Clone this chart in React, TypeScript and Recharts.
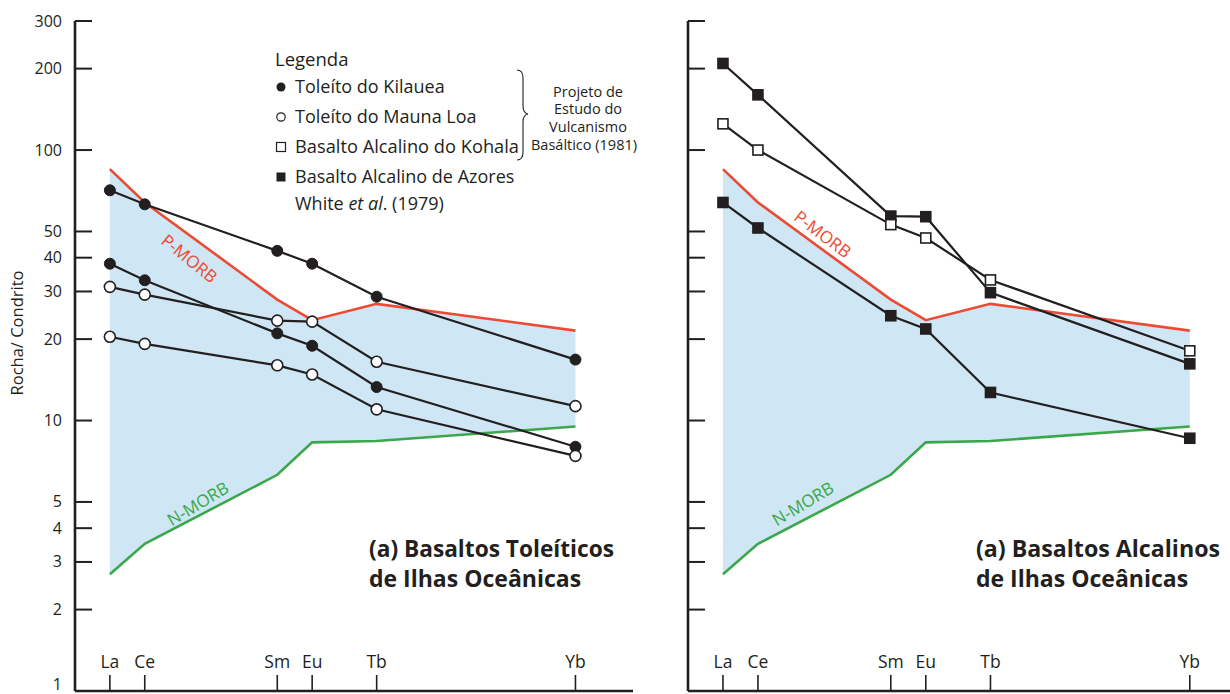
import React from 'react';
import { ComposedChart, Line, Area, XAxis, YAxis } from 'recharts';

// REE order and the (hand-drawn) spacing used on the diagram
const elements = ['La', 'Ce', 'Sm', 'Eu', 'Tb', 'Yb'];
const elementPos = [0, 1, 4.8, 5.8, 7.65, 13.35];

// MORB envelope
const pMorb = [85, 64, 28, 23.5, 27, 21.5];
const nMorb = [2.7, 3.5, 6.3, 8.3, 8.4, 9.5];

// (a) tholeiites
const kilaueaA = [71, 63, 42.4, 38, 28.7, 16.8];
const kilaueaB = [38, 33, 21, 18.9, 13.3, 8];
const maunaLoaA = [31.2, 29.2, 23.4, 23.2, 16.5, 11.3];
const maunaLoaB = [20.4, 19.2, 16, 14.8, 11, 7.4];

// (b) alkaline basalts
const azoresA = [209, 160, 57, 56.7, 29.7, 16.2];
const kohala = [125, 100, 53, 47.3, 33.1, 18.1];
const azoresB = [64, 51.5, 24.4, 21.8, 12.7, 8.6];

const yTicks = [1, 2, 3, 4, 5, 10, 20, 30, 40, 50, 100, 200, 300];

const rows = elements.map((el, i) => ({
  el,
  pos: elementPos[i],
  band: [nMorb[i], pMorb[i]],
  pMorb: pMorb[i],
  nMorb: nMorb[i],
  kilaueaA: kilaueaA[i],
  kilaueaB: kilaueaB[i],
  maunaLoaA: maunaLoaA[i],
  maunaLoaB: maunaLoaB[i],
  azoresA: azoresA[i],
  kohala: kohala[i],
  azoresB: azoresB[i],
}));

const FONT = '"Open Sans", sans-serif';
const INK = '#231f20';
const RED = '#ee4a33';
const GREEN = '#3aa84a';
const BLUE = '#cfe6f4';

const YTick = (props: any) => {
  const { x, y, payload, showLabel } = props;
  const isOne = payload.value === 1;
  return (
    <g>
      {!isOne && <line x1={x} x2={x + 17} y1={y} y2={y} stroke={INK} strokeWidth={2} />}
      {showLabel && (
        <text x={x - 13} y={y} dy={isOne ? -1 : 5.5} textAnchor="end" fontSize={16} fill={INK} fontFamily={FONT}>
          {payload.value}
        </text>
      )}
    </g>
  );
};

const XTick = (props: any) => {
  const { x, y, payload } = props;
  const name = elements[elementPos.indexOf(payload.value)];
  return (
    <g>
      <line x1={x} x2={x} y1={y} y2={y - 16} stroke={INK} strokeWidth={1.6} />
      <text x={x} y={y - 23} textAnchor="middle" fontSize={17.5} fill={INK} fontFamily={FONT}>
        {name}
      </text>
    </g>
  );
};

const filledCircle = { r: 5.5, fill: INK, stroke: INK, strokeWidth: 1 };
const openCircle = { r: 5.5, fill: '#fff', stroke: INK, strokeWidth: 1.6 };

const squareDot = (filled: boolean) => (p: any) => (
  <rect
    key={p.index}
    x={p.cx - 5}
    y={p.cy - 5}
    width={10}
    height={10}
    fill={filled ? INK : '#fff'}
    stroke={INK}
    strokeWidth={1.6}
  />
);

function Envelope() {
  return [
    <Area key="band" dataKey="band" type="linear" stroke="none" fill={BLUE} fillOpacity={1} isAnimationActive={false} />,
    <Line key="p" dataKey="pMorb" type="linear" stroke={RED} strokeWidth={2.6} dot={false} isAnimationActive={false} />,
    <Line key="n" dataKey="nMorb" type="linear" stroke={GREEN} strokeWidth={2.6} dot={false} isAnimationActive={false} />,
  ];
}

function Panel({ width, yWidth, domainMax, showLabels, children }: any) {
  return (
    <ComposedChart
      width={width}
      height={694}
      data={rows}
      margin={{ top: 21, right: 0, bottom: 0, left: 0 }}
    >
      <XAxis
        dataKey="pos"
        type="number"
        domain={[-1, domainMax]}
        ticks={elementPos}
        interval={0}
        height={3}
        tickSize={0}
        tickMargin={0}
        tickLine={false}
        tick={<XTick />}
        axisLine={{ stroke: INK, strokeWidth: 2.6 }}
        allowDataOverflow
      />
      <YAxis
        scale="log"
        type="number"
        domain={[1, 300]}
        ticks={yTicks}
        interval={0}
        width={yWidth}
        tickSize={0}
        tickMargin={0}
        tickLine={false}
        tick={<YTick showLabel={showLabels} />}
        axisLine={{ stroke: INK, strokeWidth: 2.6 }}
        allowDataOverflow
      />
      {Envelope()}
      {children}
    </ComposedChart>
  );
}

export default function App() {
  return (
    <div
      style={{
        position: 'absolute',
        left: 0,
        top: 0,
        width: 1230,
        height: 694,
        overflow: 'hidden',
        background: '#fff',
        fontFamily: FONT,
      }}
    >
      <div style={{ position: 'absolute', left: 0, top: 0 }}>
        <Panel width={633} yWidth={75} domainMax={15} showLabels>
          <Line dataKey="kilaueaA" stroke={INK} strokeWidth={2.2} dot={filledCircle} isAnimationActive={false} />
          <Line dataKey="kilaueaB" stroke={INK} strokeWidth={2.2} dot={filledCircle} isAnimationActive={false} />
          <Line dataKey="maunaLoaA" stroke={INK} strokeWidth={2.2} dot={openCircle} isAnimationActive={false} />
          <Line dataKey="maunaLoaB" stroke={INK} strokeWidth={2.2} dot={openCircle} isAnimationActive={false} />
        </Panel>
      </div>
      <div style={{ position: 'absolute', left: 648, top: 0 }}>
        <Panel width={582} yWidth={40} domainMax={14.5} showLabels={false}>
          <Line dataKey="azoresA" stroke={INK} strokeWidth={2.2} dot={squareDot(true)} isAnimationActive={false} />
          <Line dataKey="kohala" stroke={INK} strokeWidth={2.2} dot={squareDot(false)} isAnimationActive={false} />
          <Line dataKey="azoresB" stroke={INK} strokeWidth={2.2} dot={squareDot(true)} isAnimationActive={false} />
        </Panel>
      </div>

      <svg
        width={1230}
        height={694}
        style={{ position: 'absolute', left: 0, top: 0, pointerEvents: 'none' }}
        fontFamily={FONT}
      >
        <text x={18} y={333} transform="rotate(-90 18 333)" textAnchor="middle" dy={5} fontSize={16.5} fill={INK}>
          Rocha/ Condrito
        </text>

        {/* legend */}
        <text x={275} y={66} fontSize={18.5} fill={INK}>Legenda</text>
        <circle cx={281} cy={87} r={4.5} fill={INK} />
        <text x={295} y={93} fontSize={18} fill={INK}>Toleíto do Kilauea</text>
        <circle cx={281} cy={117} r={4.2} fill="#fff" stroke={INK} strokeWidth={1.2} />
        <text x={295} y={123} fontSize={18} fill={INK}>Toleíto do Mauna Loa</text>
        <rect x={276.5} y={142.5} width={9} height={9} fill="#fff" stroke={INK} strokeWidth={1.2} />
        <text x={295} y={153} fontSize={18} textLength={224} lengthAdjust="spacingAndGlyphs" fill={INK}>
          Basalto Alcalino do Kohala
        </text>
        <rect x={276.5} y={172.5} width={9} height={9} fill={INK} />
        <text x={295} y={183} fontSize={18} fill={INK}>Basalto Alcalino de Azores</text>
        <text x={295} y={210} fontSize={18} fill={INK}>
          White <tspan fontStyle="italic">et al</tspan>. (1979)
        </text>
        <path
          d="M517 70 Q523 70 523 78 L523 106 Q523 113 528 114 Q523 115 523 122 L523 152 Q523 160 517 160"
          fill="none"
          stroke={INK}
          strokeWidth={1.1}
        />
        <g fontSize={14.5} fill={INK} textAnchor="middle">
          <text x={588} y={97}>Projeto de</text>
          <text x={588} y={114}>Estudo do</text>
          <text x={588} y={132}>Vulcanismo</text>
          <text x={584} y={150}>Basáltico (1981)</text>
        </g>

        {/* envelope labels */}
        <text x={193} y={254} dy={12} transform="rotate(39 193 254)" textAnchor="middle" fontSize={17} fill={RED}>P-MORB</text>
        <text x={201} y={509} dy={0} transform="rotate(-31 201 509)" textAnchor="middle" fontSize={17} fill={GREEN}>N-MORB</text>
        <text x={819} y={239} dy={0} transform="rotate(37 819 239)" textAnchor="middle" fontSize={17} fill={RED}>P-MORB</text>
        <text x={806} y={509} dy={0} transform="rotate(-31 806 509)" textAnchor="middle" fontSize={17} fill={GREEN}>N-MORB</text>

        {/* panel titles */}
        <g fontSize={23} fontWeight="bold" fill={INK}>
          <text x={369} y={557} textLength={245} lengthAdjust="spacingAndGlyphs">(a) Basaltos Toleíticos</text>
          <text x={369} y={587}>de Ilhas Oceânicas</text>
          <text x={976} y={557} textLength={244} lengthAdjust="spacingAndGlyphs">(a) Basaltos Alcalinos</text>
          <text x={976} y={587}>de Ilhas Oceânicas</text>
        </g>
      </svg>
    </div>
  );
}
